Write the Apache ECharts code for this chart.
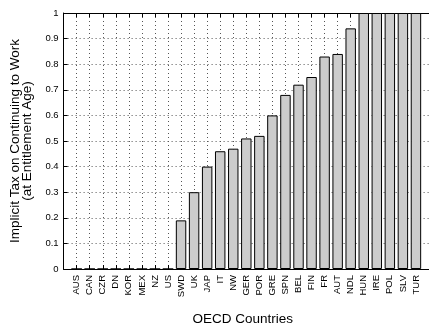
<!DOCTYPE html>
<html>
<head>
<meta charset="utf-8">
<script src="https://cdn.jsdelivr.net/npm/echarts@6/dist/echarts.min.js"></script>
<style>
html,body{margin:0;padding:0;background:#fff;}
#chart{width:429px;height:331px;}
</style>
</head>
<body>
<div id="chart"></div>
<script>
var categories = ['AUS','CAN','CZR','DN','KOR','MEX','NZ','US','SWD','UK','JAP','IT','NW','GER','POR','GRE','SPN','BEL','FIN','FR','AUT','NDL','HUN','IRE','POL','SLV','TUR'];
var values = [0,0,0,0,0,0,0,0,0.19,0.30,0.40,0.46,0.47,0.51,0.52,0.60,0.68,0.72,0.75,0.83,0.84,0.94,1,1,1,1,1];
var yTicks = [0,0.1,0.2,0.3,0.4,0.5,0.6,0.7,0.8,0.9,1];

var FONT = '"Liberation Sans", Arial, Helvetica, sans-serif';
var barData = values.map(function(v, i){ return [i + 1, v]; });

var chart = echarts.init(document.getElementById('chart'), null, {renderer:'canvas'});
var gridLine = {show:true, lineStyle:{color:'#555', width:1, type:[1,3]}};
chart.setOption({
  animation:false,
  backgroundColor:'#fff',
  grid:{left:63, top:13, width:373, height:263, containLabel:false},
  xAxis:[{
    type:'value', min:0, max:categories.length + 1, interval:1,
    position:'bottom',
    name:'OECD Countries', nameLocation:'middle', nameGap:43,
    nameTextStyle:{fontFamily:FONT, fontSize:13.5, color:'#000', padding:[0,7,0,0]},
    axisLine:{show:true, onZero:false, lineStyle:{color:'#000', width:1}},
    axisTick:{show:true, inside:true, length:4, lineStyle:{color:'#000'}},
    axisLabel:{
      show:true, rotate:90, margin:6, fontFamily:FONT, fontSize:9.5, color:'#000',
      formatter:function(v){ var i = Math.round(v) - 1; return (i >= 0 && i < categories.length) ? categories[i] : ''; }
    },
    splitLine:gridLine
  },{
    type:'value', min:0, max:categories.length + 1, interval:1,
    position:'top',
    axisLine:{show:true, onZero:false, lineStyle:{color:'#000', width:1}},
    axisTick:{show:true, inside:true, length:4, lineStyle:{color:'#000'}},
    axisLabel:{show:false},
    splitLine:{show:false}
  }],
  yAxis:{
    type:'value', min:yTicks[0], max:yTicks[yTicks.length-1], interval:0.1,
    name:'Implicit Tax on Continuing to Work\n(at Entitlement Age)',
    nameLocation:'middle', nameGap:29,
    nameTextStyle:{fontFamily:FONT, fontSize:13.5, color:'#000', lineHeight:12.5, align:'center'},
    axisLine:{show:true, lineStyle:{color:'#000', width:1}},
    axisTick:{show:true, inside:true, length:4, lineStyle:{color:'#000'}},
    axisLabel:{show:true, margin:5, fontFamily:FONT, fontSize:9.5, color:'#000'},
    splitLine:gridLine
  },
  series:[{
    type:'bar',
    xAxisIndex:0,
    data:barData,
    barWidth:'80%',
    itemStyle:{color:'#cccccc', borderColor:'#000', borderWidth:1}
  }]
});
</script>
</body>
</html>
